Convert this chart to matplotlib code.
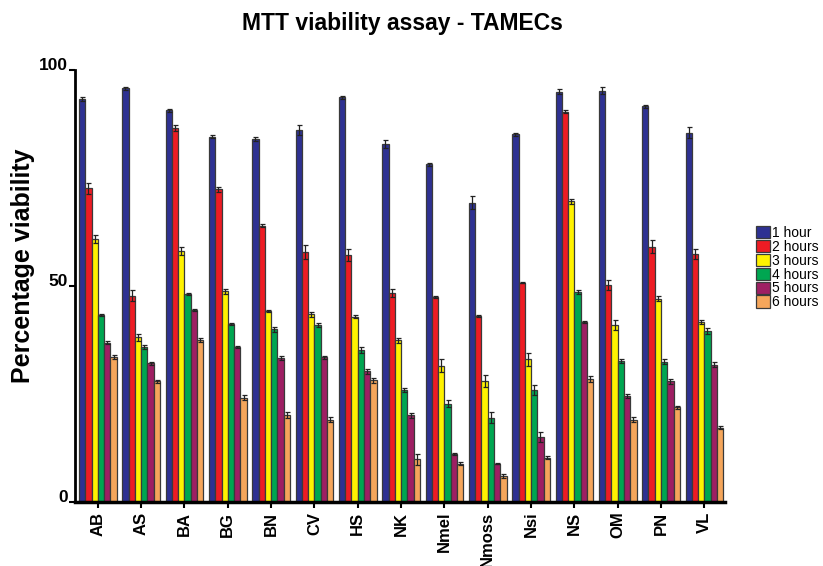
import matplotlib
matplotlib.use("Agg")
import matplotlib.pyplot as plt
import numpy as np

plt.rcParams['font.family'] = ['Liberation Sans', 'DejaVu Sans']

categories = ["AB", "AS", "BA", "BG", "BN", "CV", "HS", "NK", "Nmel", "Nmoss", "Nsi", "NS", "OM", "PN", "VL"]
series_labels = ["1 hour", "2 hours", "3 hours", "4 hours", "5 hours", "6 hours"]

h1 = [93.3, 95.8, 90.7, 84.6, 84.1, 86.2, 93.7, 82.9, 78.2, 69.3, 85.1, 95.0, 95.2, 91.6, 85.5]
h2 = [72.6, 47.8, 86.7, 72.4, 64.0, 57.9, 57.1, 48.4, 47.5, 43.1, 50.8, 90.4, 50.2, 59.1, 57.4]
h3 = [60.9, 38.1, 58.1, 48.8, 44.2, 43.5, 42.9, 37.4, 31.6, 28.1, 33.0, 69.6, 41.0, 47.1, 41.7]
h4 = [43.3, 35.9, 48.2, 41.2, 40.0, 41.0, 35.2, 25.9, 22.8, 19.5, 25.9, 48.6, 32.6, 32.5, 39.7]
h5 = [36.9, 32.1, 44.5, 35.9, 33.3, 33.5, 30.3, 20.1, 11.1, 8.9, 15.0, 41.6, 24.5, 27.9, 31.8]
h6 = [33.6, 27.9, 37.5, 24.1, 20.1, 19.1, 28.2, 9.9, 8.9, 6.0, 10.3, 28.5, 19.1, 21.9, 17.2]

e1 = [0.5, 0.4, 0.4, 0.4, 0.5, 1.2, 0.4, 0.9, 0.3, 1.5, 0.4, 0.6, 0.8, 0.4, 1.3]
e2 = [1.2, 1.2, 0.7, 0.6, 0.4, 1.7, 1.4, 1.0, 0.3, 0.3, 0.2, 0.3, 1.1, 1.5, 1.1]
e3 = [0.9, 0.9, 1.0, 0.6, 0.3, 0.6, 0.4, 0.5, 1.6, 1.4, 1.5, 0.6, 1.2, 0.5, 0.5]
e4 = [0.3, 0.4, 0.3, 0.3, 0.6, 0.5, 0.7, 0.5, 0.7, 1.3, 1.2, 0.4, 0.5, 0.6, 0.7]
e5 = [0.4, 0.3, 0.3, 0.3, 0.4, 0.3, 0.6, 0.6, 0.3, 0.2, 1.2, 0.2, 0.5, 0.5, 0.6]
e6 = [0.5, 0.4, 0.5, 0.6, 0.7, 0.5, 0.6, 1.3, 0.3, 0.5, 0.4, 0.7, 0.6, 0.4, 0.3]

values = [h1, h2, h3, h4, h5, h6]
errors = [e1, e2, e3, e4, e5, e6]
colors = ["#2E3192", "#ED1C24", "#FFF200", "#00A651", "#9E1F63", "#F5A65B"]

fig = plt.figure(figsize=(8.23, 5.66), dpi=100)
ax = fig.add_axes([0.0911, 0.1131, 0.79, 0.763])

x = np.arange(len(categories))
w = 0.145
for j in range(6):
    ax.bar(x + (j - 2.5) * w, values[j], width=w, color=colors[j],
           edgecolor="#3a3a3a", linewidth=0.9, label=series_labels[j],
           yerr=errors[j], error_kw=dict(ecolor="#222222", elinewidth=0.9, capsize=1.8, capthick=0.9))

ax.set_xlim(-0.528, 14.48)
ax.set_ylim(0, 100)
ax.set_yticks([0, 50, 100])
ax.set_yticklabels(["0", "50", "100"], fontsize=12.5, fontweight="bold")
for lab in ax.get_yticklabels():
    lab.set_verticalalignment("baseline")
ax.set_xticks(x)
ax.set_xticklabels(categories, rotation=90, fontsize=12, fontweight="bold")
for s in ["top", "right"]:
    ax.spines[s].set_visible(False)
ax.spines["left"].set_linewidth(2)
ax.spines["bottom"].set_linewidth(2.5)
ax.tick_params(axis="y", length=4, width=1.5, pad=1)
ax.tick_params(axis="x", length=4, width=1.5, pad=3)

fig.text(23 / 823, 1 - 266 / 566, "Percentage viability", rotation=90, ha="center", va="center",
         fontsize=18, fontweight="bold")
fig.text(402 / 823, 1 - 30 / 566, "MTT viability assay - TAMECs", ha="center", va="baseline",
         fontsize=16.5, fontweight="bold")

leg = ax.legend(loc="upper left", bbox_to_anchor=(1.048, 0.639), frameon=False,
                fontsize=10, handlelength=1.0, handleheight=1.0, handletextpad=0.15,
                labelspacing=-0.01, borderaxespad=0, borderpad=0)

fig.savefig("out.png", dpi=100)
